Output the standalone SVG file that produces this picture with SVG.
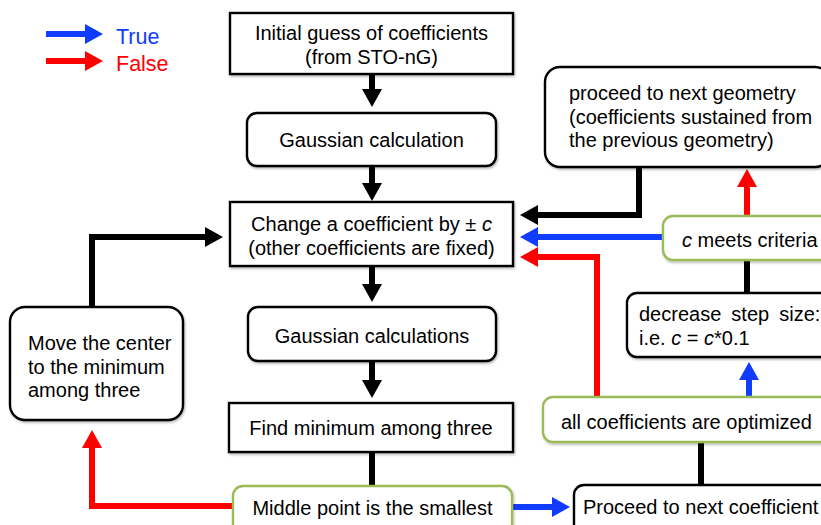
<svg xmlns="http://www.w3.org/2000/svg" width="821" height="525" viewBox="0 0 821 525">
<defs>
<style>
text{font-family:"Liberation Sans",Arial,sans-serif;font-size:20px;fill:#000}
.c{text-anchor:middle}
.lg{font-size:21.5px}
.box{fill:#fff;stroke:#000;stroke-width:2.4;filter:url(#sh)}
.gbox{fill:#fff;stroke:#9BBB59;stroke-width:2.4;filter:url(#sh)}
.k{fill:none;stroke:#000;stroke-width:6;stroke-linejoin:miter}
.b{fill:none;stroke:#0F3CFF;stroke-width:6}
.r{fill:none;stroke:#FF0000;stroke-width:6;stroke-linejoin:miter}
</style>
<filter id="sh" x="-10%" y="-10%" width="120%" height="130%">
<feDropShadow dx="1" dy="1.5" stdDeviation="1" flood-color="#000" flood-opacity="0.3"/>
</filter>
<marker id="ak" markerUnits="userSpaceOnUse" markerWidth="18" markerHeight="20" refX="0" refY="10" orient="auto"><path d="M0,0 L18,10 L0,20 Z" fill="#000"/></marker>
<marker id="ab" markerUnits="userSpaceOnUse" markerWidth="18" markerHeight="20" refX="0" refY="10" orient="auto"><path d="M0,0 L18,10 L0,20 Z" fill="#0F3CFF"/></marker>
<marker id="ar" markerUnits="userSpaceOnUse" markerWidth="18" markerHeight="20" refX="0" refY="10" orient="auto"><path d="M0,0 L18,10 L0,20 Z" fill="#FF0000"/></marker>
</defs>
<rect width="821" height="525" fill="#fff"/>

<g id="legend">
<path class="b" d="M46,34 H85" marker-end="url(#ab)"/>
<path class="r" d="M46,61 H85" marker-end="url(#ar)"/>
<text class="lg" x="116" y="44" style="fill:#0F3CFF">True</text>
<text class="lg" x="116" y="71" style="fill:#FF0000">False</text>
</g>

<g id="connectors">
<path class="k" d="M372,74 V89" marker-end="url(#ak)"/>
<path class="k" d="M372,166 V183" marker-end="url(#ak)"/>
<path class="k" d="M372,266 V284" marker-end="url(#ak)"/>
<path class="k" d="M372,361 V380" marker-end="url(#ak)"/>
<path class="k" d="M372,452 V487"/>
<path class="r" d="M233,506 H92 V448" marker-end="url(#ar)"/>
<path class="k" d="M92,307 V237 H205" marker-end="url(#ak)"/>
<path class="b" d="M512,507 H552" marker-end="url(#ab)"/>
<path class="k" d="M701,442 V486"/>
<path class="r" d="M597,398 V257 H538" marker-end="url(#ar)"/>
<path class="b" d="M749,398 V380" marker-end="url(#ab)"/>
<path class="k" d="M747,260 V294"/>
<path class="b" d="M663,237 H538" marker-end="url(#ab)"/>
<path class="r" d="M747,217 V187" marker-end="url(#ar)"/>
<path class="k" d="M639,167 V215 H538" marker-end="url(#ak)"/>
</g>

<g id="initial">
<rect class="box" x="230" y="13" width="283" height="61"/>
<text class="c" x="371.5" y="40">Initial guess of coefficients</text>
<text class="c" x="371.5" y="64">(from STO-nG)</text>
</g>
<g id="gauss1">
<rect class="box" x="247" y="113" width="249" height="53" rx="10"/>
<text class="c" x="371.5" y="147">Gaussian calculation</text>
</g>
<g id="change">
<rect class="box" x="230" y="202" width="283" height="64"/>
<text class="c" x="371.5" y="231">Change a coefficient by ± <tspan font-style="italic">c</tspan></text>
<text class="c" x="371.5" y="255">(other coefficients are fixed)</text>
</g>
<g id="gauss3">
<rect class="box" x="248" y="307" width="248" height="54" rx="10"/>
<text class="c" x="372" y="343">Gaussian calculations</text>
</g>
<g id="findmin">
<rect class="box" x="229" y="403" width="284" height="49"/>
<text class="c" x="371" y="435">Find minimum among three</text>
</g>
<g id="middle">
<rect class="gbox" x="233" y="486" width="279" height="55" rx="10"/>
<text class="c" x="372.5" y="515">Middle point is the smallest</text>
</g>
<g id="move">
<rect class="box" x="10" y="307" width="173" height="113" rx="15"/>
<text x="28" y="350">Move the center</text>
<text x="28" y="374">to the minimum</text>
<text x="28" y="397">among three</text>
</g>
<g id="nextcoef">
<rect class="box" x="574" y="485" width="260" height="60" rx="10"/>
<text x="583" y="514">Proceed to next coefficient</text>
</g>
<g id="allopt">
<rect class="gbox" x="543" y="397" width="290" height="45" rx="10"/>
<text x="561" y="429">all coefficients are optimized</text>
</g>
<g id="decrease">
<rect class="box" x="627" y="293" width="210" height="64" rx="10"/>
<text x="639" y="321" word-spacing="4.5">decrease step size:</text>
<text x="639" y="345">i.e. <tspan font-style="italic">c</tspan> = <tspan font-style="italic">c</tspan>*0.1</text>
</g>
<g id="criteria">
<rect class="gbox" x="663" y="216" width="170" height="44" rx="10"/>
<text x="682" y="247"><tspan font-style="italic">c</tspan> meets criteria</text>
</g>
<g id="nextgeom">
<rect class="box" x="545" y="67" width="285" height="100" rx="15"/>
<text x="569" y="100">proceed to next geometry</text>
<text x="569" y="124">(coefficients sustained from</text>
<text x="569" y="147">the previous geometry)</text>
</g>
</svg>
